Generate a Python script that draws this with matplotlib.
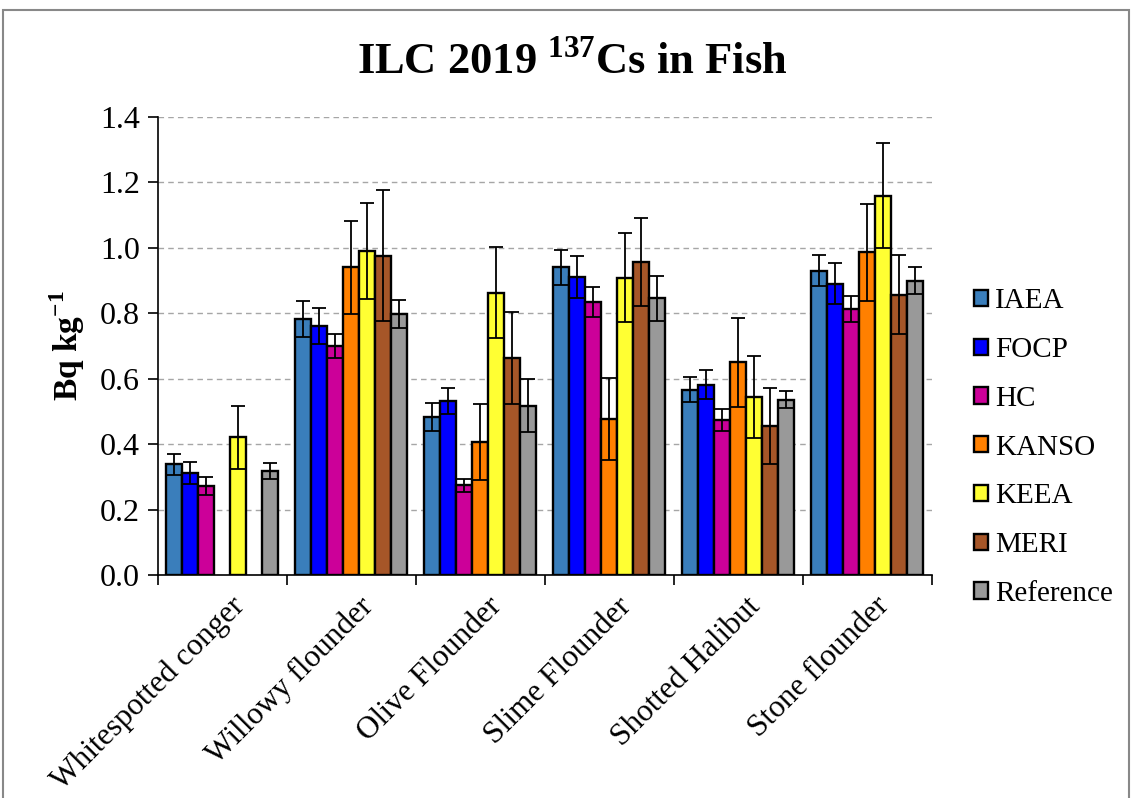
import matplotlib

matplotlib.use("Agg")

import matplotlib.pyplot as plt
import matplotlib.transforms as mtransforms
from matplotlib.patches import Rectangle
import numpy as np

plt.rcParams["font.family"] = ["Liberation Serif", "DejaVu Serif"]
plt.rcParams["mathtext.fontset"] = "custom"
plt.rcParams["mathtext.rm"] = "Liberation Serif"
plt.rcParams["mathtext.bf"] = "Liberation Serif:bold"

categories = ["Whitespotted conger", "Willowy flounder", "Olive Flounder",
              "Slime Flounder", "Shotted Halibut", "Stone flounder"]
labs = ["IAEA", "FOCP", "HC", "KANSO", "KEEA", "MERI", "Reference"]
colors = ["#3a7ebb", "#0000ff", "#cc0099", "#ff8000", "#ffff33", "#a65628", "#999999"]

# values per lab, one entry per fish (nan = not reported)
iaea = [0.338, 0.784, 0.483, 0.940, 0.566, 0.930]
focp = [0.312, 0.761, 0.532, 0.911, 0.582, 0.891]
hc = [0.272, 0.701, 0.275, 0.834, 0.474, 0.814]
kanso = [np.nan, 0.940, 0.407, 0.477, 0.650, 0.987]
keea = [0.421, 0.991, 0.863, 0.909, 0.544, 1.160]
meri = [np.nan, 0.976, 0.664, 0.957, 0.455, 0.857]
ref = [0.319, 0.798, 0.518, 0.846, 0.536, 0.900]

iaea_err = [0.033, 0.055, 0.042, 0.053, 0.038, 0.048]
focp_err = [0.034, 0.055, 0.040, 0.065, 0.044, 0.064]
hc_err = [0.028, 0.037, 0.020, 0.046, 0.033, 0.040]
kanso_err = [np.nan, 0.143, 0.117, 0.126, 0.136, 0.148]
keea_err = [0.097, 0.146, 0.139, 0.137, 0.126, 0.160]
meri_err = [np.nan, 0.200, 0.141, 0.134, 0.116, 0.120]
ref_err = [0.024, 0.044, 0.080, 0.069, 0.025, 0.041]

values = [iaea, focp, hc, kanso, keea, meri, ref]
errors = [iaea_err, focp_err, hc_err, kanso_err, keea_err, meri_err, ref_err]

fig = plt.figure(figsize=(11.34, 7.98), dpi=100)
ax = fig.add_axes([0.1393, 0.2794, 0.6825, 0.574])

x = np.arange(len(categories))
w = 0.124
for i, (v, e) in enumerate(zip(values, errors)):
    pos = x + (i - 3) * w
    ax.bar(pos, v, w, color=colors[i], edgecolor="black", linewidth=1.7,
           label=labs[i], zorder=3)
    ax.errorbar(pos, v, yerr=e, fmt="none", ecolor="black", elinewidth=1.3,
                capsize=5, capthick=1.3, zorder=4)

ax.set_xlim(-0.5, len(categories) - 0.5)
ax.set_ylim(0, 1.4)
ax.set_yticks(np.arange(0, 1.41, 0.2))
ax.set_yticklabels(["%.1f" % t for t in np.arange(0, 1.41, 0.2)], fontsize=23)
ax.yaxis.grid(True, linestyle=(0, (4, 3)), color="#a6a6a6", linewidth=1, zorder=0)

ax.set_xticks(np.arange(-0.5, len(categories), 1.0))
ax.set_xticklabels([])
ax.set_xticks(x, minor=True)
ax.set_xticklabels(categories, minor=True, rotation=45, ha="right",
                   rotation_mode="anchor", fontsize=22.5)
ax.tick_params(axis="x", which="minor", length=0, pad=12)
ax.tick_params(axis="x", which="major", length=7, width=1.2, direction="out")
ax.tick_params(axis="y", length=7, width=1.2, direction="out", pad=6)
offset = mtransforms.ScaledTranslation(0.07, 0, fig.dpi_scale_trans)
for lbl in ax.get_xticklabels(minor=True):
    lbl.set_transform(lbl.get_transform() + offset)

for s in ["top", "right"]:
    ax.spines[s].set_visible(False)
for s in ["left", "bottom"]:
    ax.spines[s].set_linewidth(1.2)

ax.set_ylabel("Bq kg$^{\\mathbf{-1}}$", fontsize=24, fontweight="bold", labelpad=9)

fig.text(0.505, 0.922, "ILC 2019 $^{\\mathbf{137}}$Cs in Fish", ha="center", va="center",
         fontsize=32, fontweight="bold")

fig.legend(*ax.get_legend_handles_labels(), loc="center left",
           bbox_to_anchor=(0.859, 0.439), frameon=False, borderpad=0,
           borderaxespad=0, fontsize=21, handlelength=0.48, handleheight=0.48,
           labelspacing=0.78, handletextpad=0.25)

fig.patches.append(Rectangle((0.003, -0.01), 0.993, 0.997, transform=fig.transFigure,
                             fill=False, edgecolor="#888888", linewidth=1.5))

fig.savefig("out.png", dpi=100)
